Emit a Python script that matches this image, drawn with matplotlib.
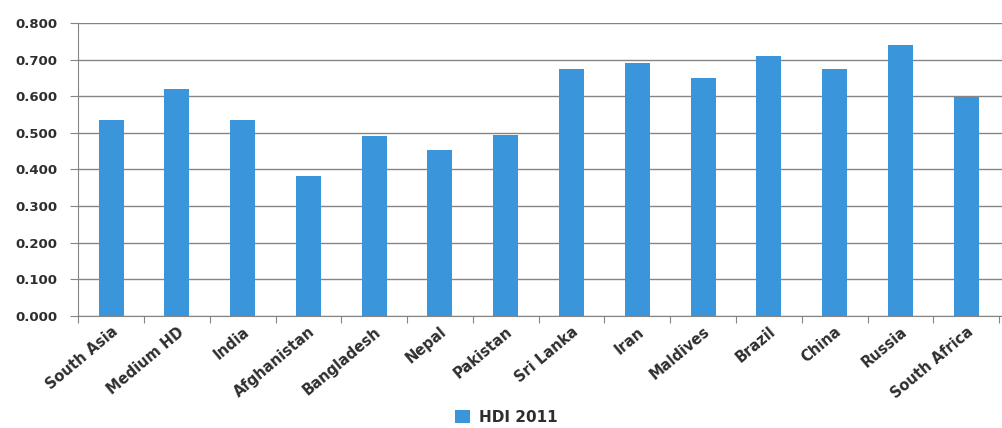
import matplotlib
matplotlib.use("Agg")
import matplotlib.pyplot as plt
import numpy as np

# Data
countries = ["South Asia", "Medium HD", "India", "Afghanistan", "Bangladesh",
             "Nepal", "Pakistan", "Sri Lanka", "Iran", "Maldives",
             "Brazil", "China", "Russia", "South Africa"]
hdi_2011 = [0.535, 0.621, 0.535, 0.383, 0.492, 0.453, 0.494,
            0.675, 0.691, 0.650, 0.709, 0.675, 0.741, 0.597]
yticks = [0.0, 0.1, 0.2, 0.3, 0.4, 0.5, 0.6, 0.7, 0.8]

bar_color = "#3b95db"
text_color = "#2e2e2e"
grid_color = "#858585"

plt.rcParams["font.family"] = "DejaVu Sans"

fig = plt.figure(figsize=(10.03, 4.28), dpi=100)
ax = fig.add_axes([0.078, 0.262, 0.922, 0.684])

x = np.arange(len(countries))
ax.bar(x, hdi_2011, width=0.38, color=bar_color, zorder=3, label="HDI 2011")

ax.set_ylim(0, 0.8)
ax.set_xlim(-0.5, len(countries) - 0.44)
ax.set_yticks(yticks)
ax.set_yticklabels([f"{v:.3f}" for v in yticks], fontsize=9.5,
                   fontweight="bold", color=text_color)
ax.yaxis.grid(True, color=grid_color, linewidth=1.0, zorder=0)

# category boundaries carry the tick marks, labels sit under the bars
ax.set_xticks(np.arange(len(countries) + 1) - 0.5)
ax.set_xticklabels([])
ax.set_xticks(x, minor=True)
ax.set_xticklabels(countries, minor=True, rotation=40, ha="right",
                   rotation_mode="anchor", fontsize=10.5, fontweight="bold",
                   color=text_color)
ax.tick_params(axis="x", which="minor", length=0, pad=6)
ax.tick_params(axis="x", which="major", length=5, color=grid_color)
ax.tick_params(axis="y", length=6, color=grid_color, pad=9)

for side in ["top", "right"]:
    ax.spines[side].set_visible(False)
for side in ["left", "bottom"]:
    ax.spines[side].set_color(grid_color)

handles, labels = ax.get_legend_handles_labels()
fig.legend(handles, labels, loc="center", bbox_to_anchor=(0.505, 0.025),
           frameon=False, handlelength=1.0, handleheight=1.0,
           handletextpad=0.6, prop={"weight": "bold", "size": 11},
           labelcolor=text_color)

fig.savefig("out.png", dpi=100)
